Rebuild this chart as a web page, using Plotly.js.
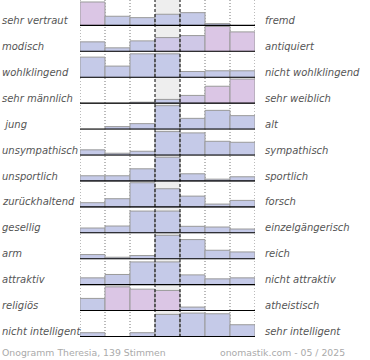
<!DOCTYPE html>
<html>
<head>
<meta charset="utf-8">
<script src="https://cdn.plot.ly/plotly-3.0.1.min.js"></script>
<style>html,body{margin:0;padding:0;background:#fff;}#chart{width:370px;height:360px;}</style>
</head>
<body>
<div id="chart"></div>
<script>
// Scale positions 1..7 (left adjective -> right adjective)
const scaleSteps = [1, 2, 3, 4, 5, 6, 7];

const leftLabels = ["sehr vertraut", "modisch", "wohlklingend", "sehr männlich", "\u00a0jung",
  "unsympathisch", "unsportlich", "zurückhaltend", "gesellig", "arm", "attraktiv", "religiös", "nicht intelligent"];
const rightLabels = ["fremd", "antiquiert", "nicht wohlklingend", "sehr weiblich", "alt",
  "sympathisch", "sportlich", "forsch", "einzelgängerisch", "reich", "nicht attraktiv", "atheistisch", "sehr intelligent"];

// Relative vote shares per scale step
const vertraut     = [24, 9.7, 8.3, 11.7, 13.3, 2.3, 0];
const modisch      = [10, 4, 11, 14.3, 16.3, 25.5, 20];
const wohlklingend = [20.7, 11.7, 24, 24, 6.3, 7, 7];
const maennlich    = [0, 0, 1.5, 4.3, 8.3, 17.5, 24.7];
const jung         = [0, 3, 6, 24, 11.3, 19.3, 14];
const unsympathisch= [5.7, 2.3, 4.3, 24, 22.7, 14.3, 13.3];
const unsportlich  = [5.7, 5.7, 12.7, 24.3, 7.7, 2.3, 4.7];
const zurueck      = [4.7, 8.7, 24.7, 18.7, 11.3, 3.3, 7];
const gesellig     = [5.3, 7.3, 22.3, 22.3, 7, 6.3, 4.3];
const arm          = [4.7, 2, 3.7, 24, 19.7, 9, 7.3];
const attraktiv    = [7.3, 10.7, 23.3, 23.3, 10.3, 6.3, 7.3];
const religioes    = [12.7, 24.3, 22, 20.7, 4, 0, 0];
const intelligent  = [4.3, 0, 4.3, 22.7, 24, 23.3, 12.3];

const rows = [vertraut, modisch, wohlklingend, maennlich, jung, unsympathisch, unsportlich,
  zurueck, gesellig, arm, attraktiv, religioes, intelligent];

// styling
const blue = "#c5cae8", pink = "#dbc6e5", lav = "#cfc8e7";
const pinkCells = {"0":[0], "1":[5,6], "3":[5,6], "11":[1,2,3]};
const lavCells = {"1":[3,4], "3":[4]};

const n = rows.length;
const traces = [];
const layout = {
  width: 370, height: 360,
  margin: {l: 80, r: 115, t: 0, b: 23, pad: 0},
  paper_bgcolor: "#ffffff", plot_bgcolor: "rgba(0,0,0,0)",
  showlegend: false, barmode: "overlay",
  font: {family: "DejaVu Sans", size: 10, color: "#555"},
  xaxis: {range: [0.5, 7.5], visible: false, fixedrange: true},
  shapes: [], annotations: []
};

// middle column background
layout.shapes.push({type: "rect", xref: "x", yref: "paper", x0: 3.5, x1: 4.5, y0: 0, y1: 1,
  fillcolor: "#eeeeee", line: {width: 0}, layer: "below"});
// dotted grid lines
[0.5, 1.5, 2.5, 5.5, 6.5, 7.5].forEach(x => layout.shapes.push({type: "line", xref: "x", yref: "paper",
  x0: x, x1: x, y0: 0, y1: 1, line: {color: "#777", width: 1, dash: "1px,2px"}, layer: "below"}));
// dashed middle boundaries
[3.5, 4.5].forEach(x => layout.shapes.push({type: "line", xref: "x", yref: "paper",
  x0: x, x1: x, y0: 0, y1: 1, line: {color: "#000", width: 1, dash: "3px,2px"}, layer: "above"}));

for (let i = 0; i < n; i++) {
  const ax = i === 0 ? "y" : "y" + (i + 1);
  const axName = i === 0 ? "yaxis" : "yaxis" + (i + 1);
  layout[axName] = {domain: [(n - 1 - i) / n, (n - i) / n], range: [0, 26], visible: false, fixedrange: true, anchor: "x"};
  const colors = scaleSteps.map((s, j) => {
    if (pinkCells[i] && pinkCells[i].includes(j)) return pink;
    if (lavCells[i] && lavCells[i].includes(j)) return lav;
    return blue;
  });
  traces.push({
    type: "bar", x: scaleSteps, y: rows[i], xaxis: "x", yaxis: ax, width: 1,
    marker: {color: colors, line: {color: "#9a9a9a", width: 1}},
    hoverinfo: "skip"
  });
  // baseline
  layout.shapes.push({type: "line", xref: "x", yref: ax, x0: 0.5, x1: 7.5, y0: -0.6, y1: -0.6,
    line: {color: "#cccccc", width: 1}, layer: "above"});
  layout.shapes.push({type: "line", xref: "x", yref: ax, x0: 0.5, x1: 7.5, y0: 0.3, y1: 0.3,
    line: {color: "#000", width: 1.6}, layer: "above"});
  layout.annotations.push({xref: "paper", yref: ax + " domain", x: -80 / 175, y: 0.21,
    xanchor: "left", yanchor: "middle", text: "<i>" + leftLabels[i] + "</i>", showarrow: false,
    font: {family: "DejaVu Sans", size: 10, color: "#555"}});
  layout.annotations.push({xref: "paper", yref: ax + " domain", x: (263 - 80) / 175, y: 0.21,
    xanchor: "left", yanchor: "middle", text: "<i>" + rightLabels[i] + "</i>", showarrow: false,
    font: {family: "DejaVu Sans", size: 10, color: "#555"}});
}

layout.annotations.push({xref: "paper", yref: "paper", x: -80 / 175, y: -15 / 337, xanchor: "left", yanchor: "middle",
  text: "Onogramm Theresia, 139 Stimmen", showarrow: false, font: {family: "DejaVu Sans", size: 9.3, color: "#aaaaaa"}});
layout.annotations.push({xref: "paper", yref: "paper", x: (347 - 80) / 175, y: -15 / 337, xanchor: "right", yanchor: "middle",
  text: "onomastik.com - 05 / 2025", showarrow: false, font: {family: "DejaVu Sans", size: 9.3, color: "#aaaaaa"}});

Plotly.newPlot("chart", traces, layout, {staticPlot: true, displayModeBar: false});
</script>
</body>
</html>
